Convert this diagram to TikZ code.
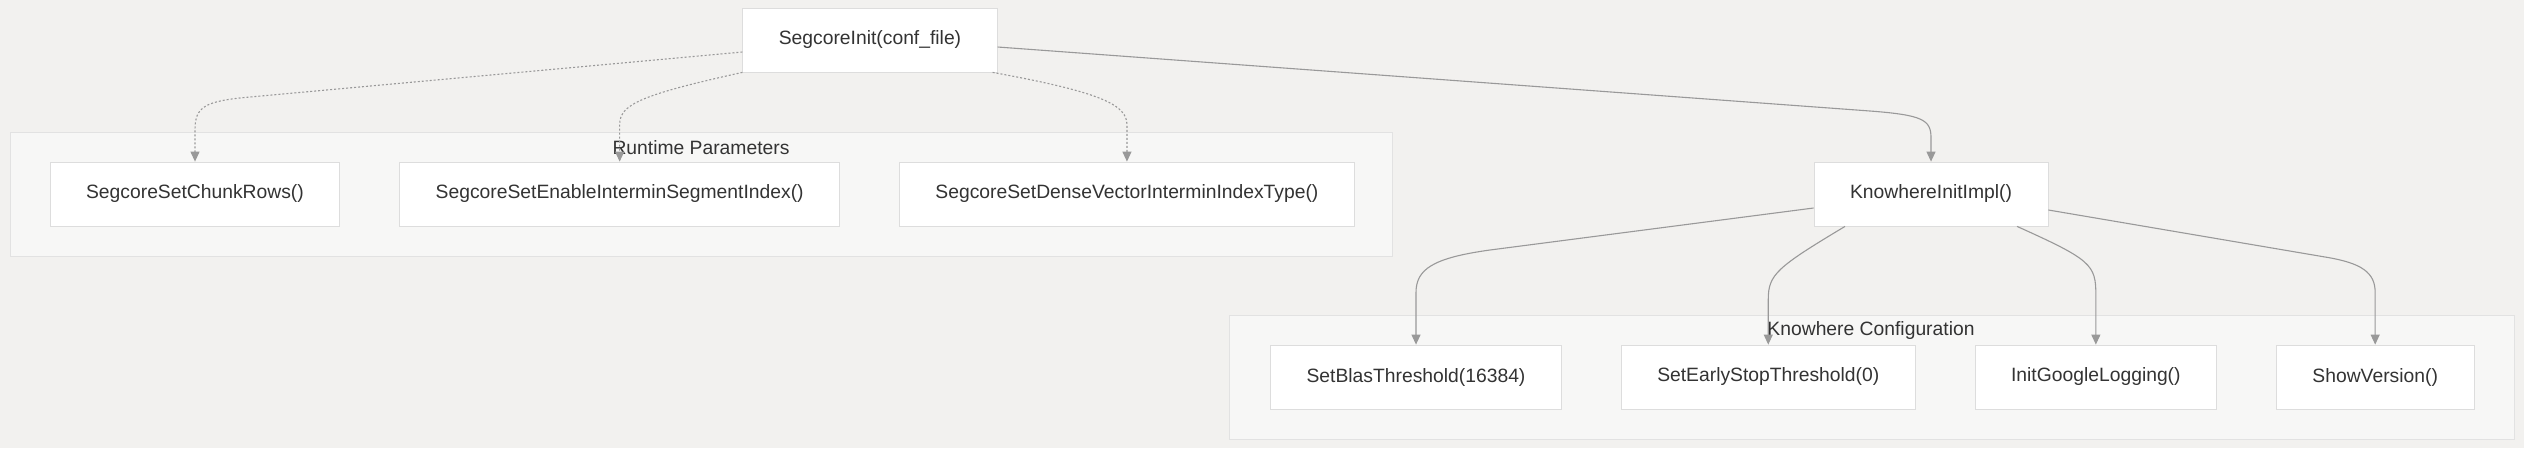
\documentclass[tikz,border=0pt]{standalone}
\usepackage{fontspec}
\setmainfont{Liberation Sans}
\usetikzlibrary{positioning, arrows.meta}

\definecolor{bgcol}{HTML}{F2F1EF}
\definecolor{clusterfill}{HTML}{F7F7F6}
\definecolor{clusterline}{HTML}{E2E2E2}
\definecolor{nodeline}{HTML}{DDDDDD}
\definecolor{edgecol}{HTML}{999999}
\definecolor{textcol}{HTML}{333333}

\begin{document}
\begin{tikzpicture}[x=1pt, y=-1pt, node distance=59pt,
    fn/.style={draw=nodeline, fill=white, line width=0.8pt, minimum height=64pt,
      inner xsep=36pt, inner ysep=0pt, font=\fontsize{19.3}{23}\selectfont, text=textcol},
    cluster/.style={draw=clusterline, fill=clusterfill, line width=0.8pt},
    grouplabel/.style={font=\fontsize{19.3}{23}\selectfont, text=textcol, inner sep=0pt},
    link/.style={draw=edgecol, line width=1.1pt, -{Triangle[length=10pt,width=9pt]}},
    optlink/.style={link, dash pattern=on 2pt off 2pt}]

    % canvas
    \fill[bgcol] (0,0) rectangle (2524,448);
    \useasboundingbox (0,0) rectangle (2524,448);

    % groups
    \draw[cluster] (10,132) rectangle (1392,256);
    \node[grouplabel] (rtlabel) at (701,148) {Runtime Parameters};
    \draw[cluster] (1229,315) rectangle (2514,439);
    \node[grouplabel] (kwlabel) at (1871,331) {Knowhere Configuration};

    % calls
    \node[fn] (init) at (870,40) {SegcoreInit(conf\_file)};
    \node[fn] (chunk) at (195,194) {SegcoreSetChunkRows()};
    \node[fn, right=of chunk] (enable) {SegcoreSetEnableInterminSegmentIndex()};
    \node[fn, right=of enable] (dense) {SegcoreSetDenseVectorInterminIndexType()};
    \node[fn] (kinit) at (1931,194) {KnowhereInitImpl()};
    \node[fn] (blas) at (1416,377) {SetBlasThreshold(16384)};
    \node[fn, right=of blas] (early) {SetEarlyStopThreshold(0)};
    \node[fn, right=of early] (google) {InitGoogleLogging()};
    \node[fn, right=of google] (show) {ShowVersion()};

    % runtime parameters
    \draw[optlink] ([yshift=-12pt]init.west) -- (250,97)
        .. controls (205,101) and ([yshift=55pt]chunk.north) .. ([yshift=32pt]chunk.north) -- (chunk.north);
    \draw[optlink] (init.south west)
        .. controls (640,95) and ([yshift=57pt]enable.north) .. ([yshift=37pt]enable.north) -- (enable.north);
    \draw[optlink] ([xshift=-5pt]init.south east)
        .. controls (1100,92) and ([yshift=57pt]dense.north) .. ([yshift=37pt]dense.north) -- (dense.north);

    % knowhere
    \draw[link] ([yshift=-7pt]init.east) -- (1870,111)
        .. controls (1922,115) and ([yshift=42pt]kinit.north) .. ([yshift=24pt]kinit.north) -- (kinit.north);
    \draw[link] ([yshift=-14pt]kinit.west) -- (1490,250)
        .. controls (1432,258) and ([yshift=75pt]blas.north) .. ([yshift=52pt]blas.north) -- (blas.north);
    \draw[link] ([xshift=-86pt]kinit.south)
        .. controls ([xshift=8pt,yshift=77pt]early.north) and ([yshift=70pt]early.north) .. ([yshift=45pt]early.north) -- (early.north);
    \draw[link] ([xshift=86pt]kinit.south)
        .. controls ([xshift=-5pt,yshift=85pt]google.north) and ([yshift=80pt]google.north) .. ([yshift=50pt]google.north) -- (google.north);
    \draw[link] ([yshift=-16pt]kinit.east) -- (2325,257)
        .. controls (2362,263) and ([yshift=72pt]show.north) .. ([yshift=52pt]show.north) -- (show.north);
\end{tikzpicture}
\end{document}
